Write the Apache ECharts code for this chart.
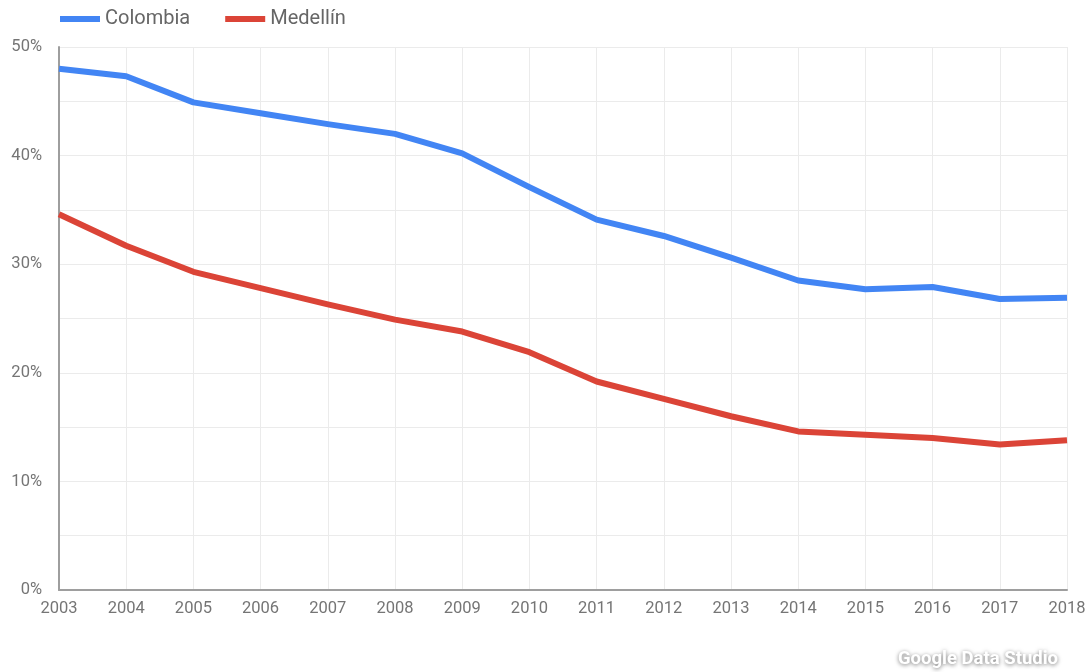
<!DOCTYPE html>
<html>
<head>
<meta charset="utf-8">
<style>
  html, body { margin: 0; padding: 0; background: #fff; }
  #chart { width: 1091px; height: 672px; }
</style>
<script src="https://cdn.jsdelivr.net/npm/echarts@6/dist/echarts.min.js"></script>
</head>
<body>
<div id="chart"></div>
<script>
// Years on the horizontal axis
const years = ['2003','2004','2005','2006','2007','2008','2009','2010','2011','2012','2013','2014','2015','2016','2017','2018'];
// Percentages per year
const colombia = [48.0, 47.3, 44.9, 43.9, 42.9, 42.0, 40.2, 37.1, 34.1, 32.6, 30.6, 28.5, 27.7, 27.9, 26.8, 26.9];
const medellin = [34.6, 31.7, 29.3, 27.8, 26.3, 24.9, 23.8, 21.9, 19.2, 17.6, 16.0, 14.6, 14.3, 14.0, 13.4, 13.8];
const seriesNames = ['Colombia', 'Medellín'];

const chart = echarts.init(document.getElementById('chart'));
const font = 'Roboto, "Noto Sans", sans-serif';

chart.setOption({
  animation: false,
  textStyle: { fontFamily: font },
  legend: {
    left: 55, top: 4,
    icon: 'rect', itemWidth: 40, itemHeight: 6, itemGap: 35,
    textStyle: { fontSize: 20, color: '#666', fontFamily: font },
    data: seriesNames
  },
  grid: { left: 59, right: 24, top: 47, bottom: 82 },
  xAxis: {
    type: 'category', data: years, boundaryGap: false,
    axisLine: { lineStyle: { color: '#9e9e9e', width: 2 } },
    axisTick: { show: false },
    axisLabel: { color: '#757575', fontSize: 16.5, margin: 10, fontFamily: font },
    splitLine: { show: true, lineStyle: { color: '#ebebeb', width: 1 } }
  },
  yAxis: {
    type: 'value', min: 0, max: 50, interval: 5,
    axisLine: { show: true, lineStyle: { color: '#9e9e9e', width: 2 } },
    axisTick: { show: false },
    axisLabel: {
      color: '#757575', fontSize: 16.5, margin: 17, fontFamily: font,
      formatter: v => (v % 10 === 0 ? v + '%' : '')
    },
    splitLine: { lineStyle: { color: '#ebebeb', width: 1 } }
  },
  series: [
    {
      name: seriesNames[0], type: 'line', data: colombia,
      showSymbol: false, symbol: 'none',
      lineStyle: { width: 6, color: '#4285f4', cap: 'butt', join: 'round' },
      itemStyle: { color: '#4285f4' }
    },
    {
      name: seriesNames[1], type: 'line', data: medellin,
      showSymbol: false, symbol: 'none',
      lineStyle: { width: 6, color: '#db4437', cap: 'butt', join: 'round' },
      itemStyle: { color: '#db4437' }
    }
  ],
  graphic: [{
    type: 'text', right: 33, top: 650,
    style: {
      text: 'Google Data Studio', fill: '#fff', fontSize: 18.5, fontWeight: 'bold',
      fontFamily: font,
      textShadowColor: 'rgba(0,0,0,0.55)', textShadowBlur: 4,
      textShadowOffsetX: 0, textShadowOffsetY: 1
    }
  }]
});
</script>
</body>
</html>
